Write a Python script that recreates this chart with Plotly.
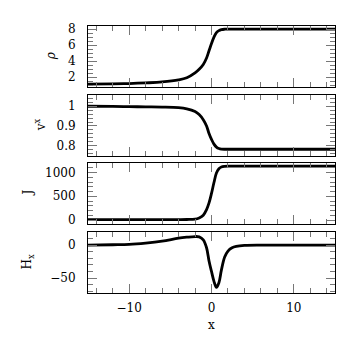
import plotly.graph_objects as go
from plotly.subplots import make_subplots

x = [-15, -12, -10, -8, -6, -4, -3, -2, -1.5, -1, -0.6, -0.3, 0, 0.3, 0.6, 0.9, 1.2, 1.6, 2, 2.5, 3, 4, 6, 10, 15]

rho = [1.15, 1.18, 1.22, 1.3, 1.42, 1.68, 1.95, 2.55, 3.0, 3.6, 4.4, 5.3, 6.2, 7.0, 7.55, 7.8, 7.92, 7.98, 8.0, 8.0, 8.0, 8.0, 8.0, 8.0, 8.0]
vx = [1.0, 0.999, 0.998, 0.997, 0.996, 0.993, 0.987, 0.973, 0.958, 0.932, 0.9, 0.862, 0.832, 0.808, 0.793, 0.786, 0.783, 0.782, 0.782, 0.782, 0.782, 0.782, 0.782, 0.782, 0.782]
J = [10, 10, 10, 10, 10, 10, 12, 20, 45, 100, 220, 360, 560, 790, 990, 1080, 1115, 1130, 1135, 1135, 1135, 1135, 1135, 1135, 1135]
Hx = [0, 0.5, 1, 3, 6, 10.5, 12, 13, 12.5, 8, -4, -24, -40, -55, -64, -57, -38, -18, -9, -4, -2, -0.5, 0, 0, 0]

series = [rho, vx, J, Hx]
titles = ["<i>ρ</i>", "v<sup>x</sup>", "J", "H<sub>x</sub>"]
yranges = [[0.84, 8.38], [0.749, 1.059], [-80, 1195], [-72.7, 19.7]]
ydticks = [2, 0.1, 500, 50]
yminor = [0.5, 0.02, 100, 10]
title_shift = [-37, -48, -60, -60]
domains = [[0.773, 1.0], [0.514, 0.743], [0.259, 0.486], [0.0, 0.228]]

font = dict(family="DejaVu Serif", size=12, color="black")

fig = make_subplots(rows=4, cols=1, shared_xaxes=True)

for i, y in enumerate(series):
    fig.add_trace(go.Scatter(x=x, y=y, mode="lines", line_shape="spline",
                             line=dict(color="black", width=2.8)), row=i + 1, col=1)
    fig.update_yaxes(range=yranges[i], dtick=ydticks[i], domain=domains[i],
                     ticks="inside", ticklen=9, tickcolor="#777", mirror="ticks",
                     showline=True, linecolor="black", linewidth=1, showgrid=False,
                     zeroline=False, ticklabelstandoff=9, tickfont=font,
                     minor=dict(dtick=yminor[i], ticks="inside", ticklen=5, tickcolor="#777"),
                     row=i + 1, col=1)
    fig.update_xaxes(range=[-15, 15], dtick=10, ticks="inside", ticklen=9, tickcolor="#777",
                     mirror="ticks", showline=True, linecolor="black", linewidth=1,
                     showgrid=False, zeroline=False, tickfont=font,
                     minor=dict(dtick=2, ticks="inside", ticklen=5, tickcolor="#777"),
                     row=i + 1, col=1)
    fig.add_annotation(text=titles[i], xref="paper", yref="paper", x=0,
                       y=sum(domains[i]) / 2, xshift=title_shift[i], textangle=-90,
                       showarrow=False, font=font, xanchor="center", yanchor="middle")

fig.update_xaxes(showticklabels=True, ticklabelstandoff=4, row=4, col=1)
fig.add_annotation(text="x", xref="x4", yref="paper", x=0, y=0, yshift=-32,
                   showarrow=False, font=font, yanchor="middle")

fig.update_layout(width=360, height=360, showlegend=False, font=font,
                  margin=dict(l=80, r=33, t=18, b=75),
                  paper_bgcolor="white", plot_bgcolor="white")

fig.write_html("out.html")
